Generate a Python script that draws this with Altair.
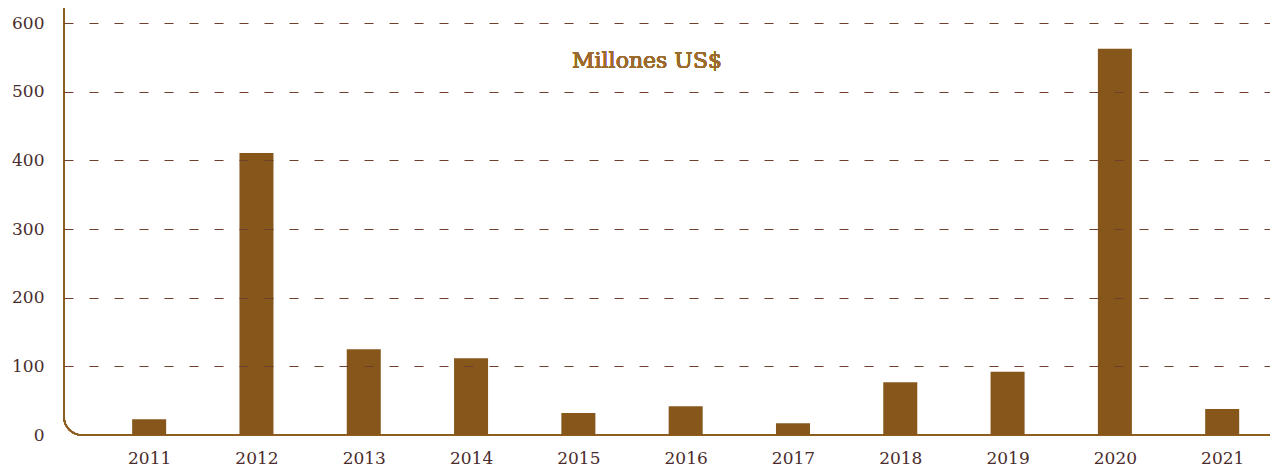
import altair as alt
import pandas as pd

years = [2011, 2012, 2013, 2014, 2015, 2016, 2017, 2018, 2019, 2020, 2021]
values = [23, 411, 125, 112, 32, 42, 17, 77, 92, 563, 38]
y_ticks = [0, 100, 200, 300, 400, 500, 600]
title_text = "Millones US$"

df = pd.DataFrame({"year": years, "value": values})

W, H = 1206, 420
FONT = "DejaVu Serif"

base = alt.Chart(df)

frame = base.mark_rect(
    fill=None, stroke="#8f5f22", strokeWidth=1.5, cornerRadiusBottomLeft=18
).encode(
    x=alt.value(0), x2=alt.value(W + 30), y=alt.value(-40), y2=alt.value(H)
)

bars = base.mark_bar(color="#86561a", width=34).encode(
    x=alt.X(
        "year:Q",
        scale=alt.Scale(domain=[2010.253, 2021.399], nice=False, zero=False),
        axis=alt.Axis(
            values=years, format="d", title=None, grid=False, ticks=False,
            domain=False, labelFont=FONT, labelFontSize=17, labelColor="#4a2c2c",
            labelPadding=15,
        ),
    ),
    y=alt.Y(
        "value:Q",
        scale=alt.Scale(domain=[0, 612], nice=False),
        axis=alt.Axis(
            values=y_ticks, title=None, ticks=False, domain=False,
            grid=True, gridColor="#6e3f2c", gridDash=[9, 16], gridWidth=1,
            gridOpacity=alt.condition("datum.value === 0", alt.value(0), alt.value(1)),
            labelFont=FONT, labelFontSize=17, labelColor="#4a2c2c",
            labelPadding=20, zindex=1,
        ),
    ),
)

label = base.mark_text(
    font=FONT, fontSize=22, color="#9b6a2d", align="center", baseline="middle"
).encode(
    x=alt.value(583), y=alt.value(46), text=alt.value(title_text)
)

chart = alt.layer(frame, bars, label).properties(
    width=W, height=H,
    autosize=alt.AutoSizeParams(type="none"),
    padding={"left": 56, "top": 7, "right": 0, "bottom": 32},
).configure_view(stroke=None)

chart.save("out.html", embed_options={"renderer": "svg", "actions": False})
